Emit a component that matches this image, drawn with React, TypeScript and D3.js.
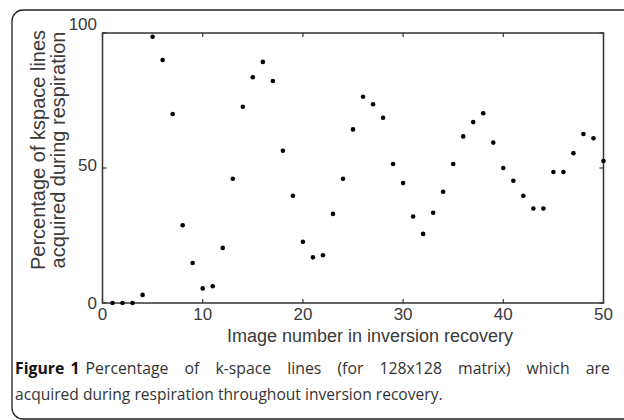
import React from 'react';
import * as d3 from 'd3';

const imageNumbers = [
  1, 2, 3, 4, 5, 6, 7, 8, 9, 10,
  11, 12, 13, 14, 15, 16, 17, 18, 19, 20,
  21, 22, 23, 24, 25, 26, 27, 28, 29, 30,
  31, 32, 33, 34, 35, 36, 37, 38, 39, 40,
  41, 42, 43, 44, 45, 46, 47, 48, 49, 50,
];
const percentages = [
  0, 0, 0, 3, 98.6, 90, 70, 28.8, 14.8, 5.4,
  6.2, 20.4, 46, 72.7, 83.6, 89.3, 82.2, 56.4, 39.7, 22.7,
  16.9, 17.7, 33, 46, 64.3, 76.4, 73.6, 68.6, 51.5, 44.4,
  32, 25.6, 33.4, 41.2, 51.5, 61.7, 67, 70.3, 59.4, 50,
  45.3, 39.7, 35, 35, 48.5, 48.5, 55.5, 62.6, 61, 52.6,
];
const xTicks = [0, 10, 20, 30, 40, 50];
const yTicks = [0, 50, 100];
const xLabel = 'Image number in inversion recovery';
const yLabelLines = ['Percentage of kspace lines', 'acquired during respiration'];
const captionBold = 'Figure 1';
const captionLine1 = 'Percentage of k-space lines (for 128x128 matrix) which are';
const captionLine2 = 'acquired during respiration throughout inversion recovery.';

export default function App() {
  const left = 102.5, right = 603.5, top = 33, bottom = 303;
  const x = d3.scaleLinear().domain([0, 50]).range([left, right]);
  const y = d3.scaleLinear().domain([0, 100]).range([bottom, top]);
  const axisColor = '#333';
  const textColor = '#3a3a3a';
  const tickLen = 4;
  const font = 'Liberation Sans, Arial, sans-serif';
  return (
    <svg width={624} height={420} style={{ position: 'absolute', left: 0, top: 0, background: '#fff' }}>
      <rect x={12} y={10} width={640} height={409} rx={11} fill="#fff" stroke="#222" strokeWidth={1.3} />
      <rect x={left} y={top} width={right - left} height={bottom - top} fill="none" stroke={axisColor} strokeWidth={1.5} />
      {xTicks.map((t) => (
        <g key={'x' + t}>
          <line x1={x(t)} x2={x(t)} y1={bottom} y2={bottom - tickLen} stroke={axisColor} strokeWidth={1.2} />
          <line x1={x(t)} x2={x(t)} y1={top} y2={top + tickLen} stroke={axisColor} strokeWidth={1.2} />
          <text x={x(t)} y={bottom + 16.5} textAnchor="middle" fontFamily={font} fontSize={17} fill={textColor}>{t}</text>
        </g>
      ))}
      {yTicks.map((t) => (
        <g key={'y' + t}>
          <line x1={left} x2={left + tickLen} y1={y(t)} y2={y(t)} stroke={axisColor} strokeWidth={1.2} />
          <line x1={right} x2={right - tickLen} y1={y(t)} y2={y(t)} stroke={axisColor} strokeWidth={1.2} />
          <text x={97} y={y(t) + (t === 100 ? -3 : t === 50 ? 3 : 6)} textAnchor="end" fontFamily={font} fontSize={17} fill={textColor}>{t}</text>
        </g>
      ))}
      {imageNumbers.map((n, i) => (
        <circle key={n} cx={x(n)} cy={y(percentages[i])} r={2.3} fill="#000" />
      ))}
      <text x={370} y={342} textAnchor="middle" fontFamily={font} fontSize={18} fill={textColor}>{xLabel}</text>
      {yLabelLines.map((s, i) => (
        <text key={s} transform={`translate(${45 + i * 20},150) rotate(-90)`} textAnchor="middle" fontFamily={font} fontSize={20} fill={textColor}>{s}</text>
      ))}
      <text x={15} y={374} fontFamily="Open Sans, sans-serif" fontSize={15.8} fill="#333">
        <tspan fontWeight="bold" fill="#111" wordSpacing={2}>{captionBold + ' '}</tspan>
        <tspan wordSpacing={12}>{captionLine1}</tspan>
      </text>
      <text x={15} y={400} fontFamily="Open Sans, sans-serif" fontSize={15.6} fill="#333">{captionLine2}</text>
    </svg>
  );
}
